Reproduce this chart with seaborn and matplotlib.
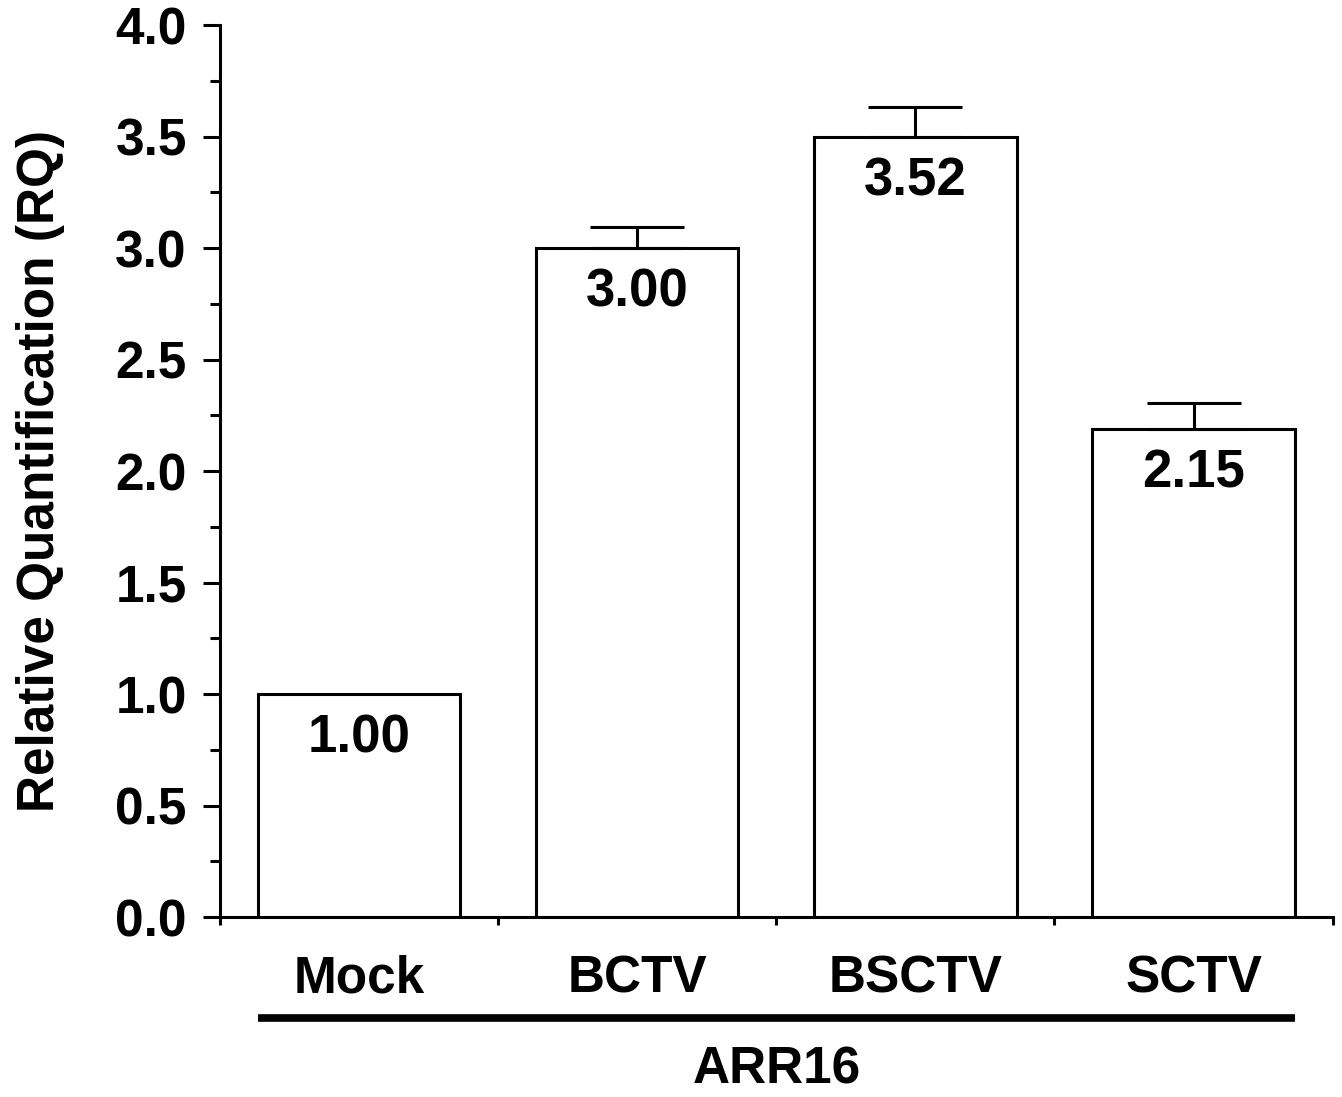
import numpy as np
import pandas as pd
import matplotlib.pyplot as plt
import seaborn as sns
from matplotlib.ticker import MultipleLocator, FixedLocator

# dados
groups = ["Mock", "BCTV", "BSCTV", "SCTV"]
rq_values = [1.00, 3.00, 3.50, 2.19]
rq_errors = [0.0, 0.095, 0.135, 0.115]
bar_labels = ["1.00", "3.00", "3.52", "2.15"]
gene_name = "ARR16"

df = pd.DataFrame({"group": groups, "rq": rq_values, "err": rq_errors})

sns.set_style("ticks")
plt.rcParams["font.family"] = ["Liberation Sans", "DejaVu Sans"]
plt.rcParams["font.weight"] = "bold"
plt.rcParams["text.color"] = "black"
plt.rcParams["axes.labelcolor"] = "black"
plt.rcParams["xtick.color"] = "black"
plt.rcParams["ytick.color"] = "black"

lw = 2.2
fs = 37
fig = plt.figure(figsize=(13.42, 10.97), dpi=100)
ax = fig.add_axes([0.164, 0.164, 0.829, 0.813])

bar_w = 0.727
sns.barplot(data=df, x="group", y="rq", color="white", edgecolor="black",
            linewidth=lw, width=bar_w, saturation=1, errorbar=None, ax=ax)

# barras de erro so para cima
mask = df["err"] > 0
xs = np.arange(len(df))[mask]
ax.errorbar(xs, df["rq"][mask], yerr=[np.zeros(mask.sum()), df["err"][mask]],
            fmt="none", ecolor="black", elinewidth=lw, capsize=34, capthick=lw, zorder=1)

# valores dentro das barras
for i, (h, lab) in enumerate(zip(df["rq"], bar_labels)):
    ax.text(i, h - 0.2, lab, ha="center", va="center", fontsize=fs + 1,
            fontweight="bold", color="black")

ax.set_xlim(-0.5, 3.5)
ax.set_ylim(0, 4.0)
ax.yaxis.set_major_locator(MultipleLocator(0.5))
ax.yaxis.set_minor_locator(MultipleLocator(0.25))
ax.yaxis.set_major_formatter(plt.FormatStrFormatter("%.1f"))
ax.xaxis.set_minor_locator(FixedLocator([-0.5, 0.5, 1.5, 2.5, 3.5]))

ax.tick_params(axis="y", which="major", length=12, width=lw, labelsize=fs, pad=12)
ax.tick_params(axis="y", which="minor", length=7, width=lw)
ax.tick_params(axis="x", which="major", length=0, labelsize=fs, pad=27)
ax.tick_params(axis="x", which="minor", length=6, width=lw)
for t in ax.get_xticklabels() + ax.get_yticklabels():
    t.set_fontweight("bold")

for s in ["left", "bottom"]:
    ax.spines[s].set_linewidth(lw)
    ax.spines[s].set_color("black")
sns.despine(ax=ax)

# linha sob os grupos
ax.plot([-bar_w / 2, 3 + bar_w / 2], [-0.113, -0.113], color="black", lw=5.5,
        transform=ax.get_xaxis_transform(), clip_on=False, solid_capstyle="butt")

ax.set_xlabel(gene_name, fontsize=fs, fontweight="bold", labelpad=30)
ax.set_ylabel("Relative Quantification (RQ)", fontsize=fs, fontweight="bold", labelpad=36)

plt.savefig("out.png", dpi=100)
plt.close()
